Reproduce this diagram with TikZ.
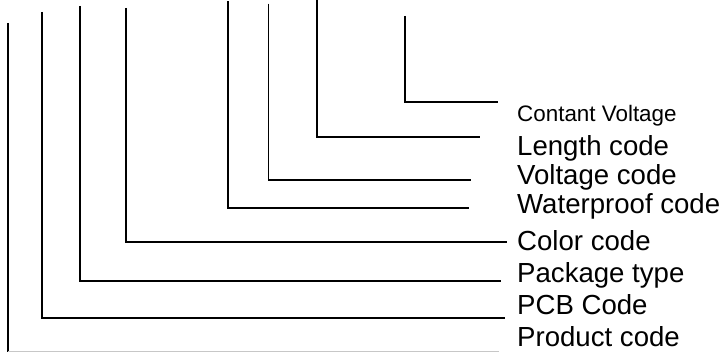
\documentclass[tikz,border=0pt]{standalone}
\usepackage{fontspec}
\setmainfont{Liberation Sans}
\begin{document}
\begin{tikzpicture}[x=1pt,y=-1pt,
  lbl/.style={anchor=base west, inner sep=0pt, font=\fontsize{27.6}{30}\selectfont},
  smalllbl/.style={anchor=base west, inner sep=0pt, font=\fontsize{22.4}{25}\selectfont},
  conn/.style={line width=1.3pt, line cap=butt, line join=miter}]
\useasboundingbox (0,0) rectangle (721,352);
% labels
\node[smalllbl] (lcv)  at (517,122)   {Contant Voltage};
\node[lbl]      (llen) at (517,155.5) {Length code};
\node[lbl]      (lvol) at (517,185)   {Voltage code};
\node[lbl]      (lwat) at (517,213.5) {Waterproof code};
\node[lbl]      (lcol) at (517,251)   {Color code};
\node[lbl]      (lpac) at (517,283)   {Package type};
\node[lbl]      (lpcb) at (517,315)   {PCB Code};
\node[lbl]      (lpro) at (517,346.5) {Product code};
% top ends of the vertical strokes
\coordinate (t1) at (8,23);
\coordinate (t2) at (42,12);
\coordinate (t3) at (80,6);
\coordinate (t4) at (126,8);
\coordinate (t5) at (228,1.5);
\coordinate (t6) at (268.5,3.7);
\coordinate (t7) at (317,0);
\coordinate (t8) at (405,16);
% free ends of the horizontal strokes
\coordinate (e1) at (499,351.3);
\coordinate (e2) at (505,318);
\coordinate (e3) at (501,281);
\coordinate (e4) at (507,242);
\coordinate (e5) at (469,208);
\coordinate (e6) at (471,180);
\coordinate (e7) at (480,137);
\coordinate (e8) at (498,102);
% connectors
\coordinate (c1) at (8,351.3);
\draw[conn] (t1) -- (8,352);
\draw[conn, black!22] (c1) -- (e1);
\draw[conn] (t2) |- (e2);
\draw[conn] (t3) |- (e3);
\draw[conn] (t4) |- (e4);
\draw[conn] (t5) |- (e5);
\draw[conn] (t6) |- (e6);
\draw[conn] (t7) |- (e7);
\draw[conn] (t8) |- (e8);
\end{tikzpicture}
\end{document}
